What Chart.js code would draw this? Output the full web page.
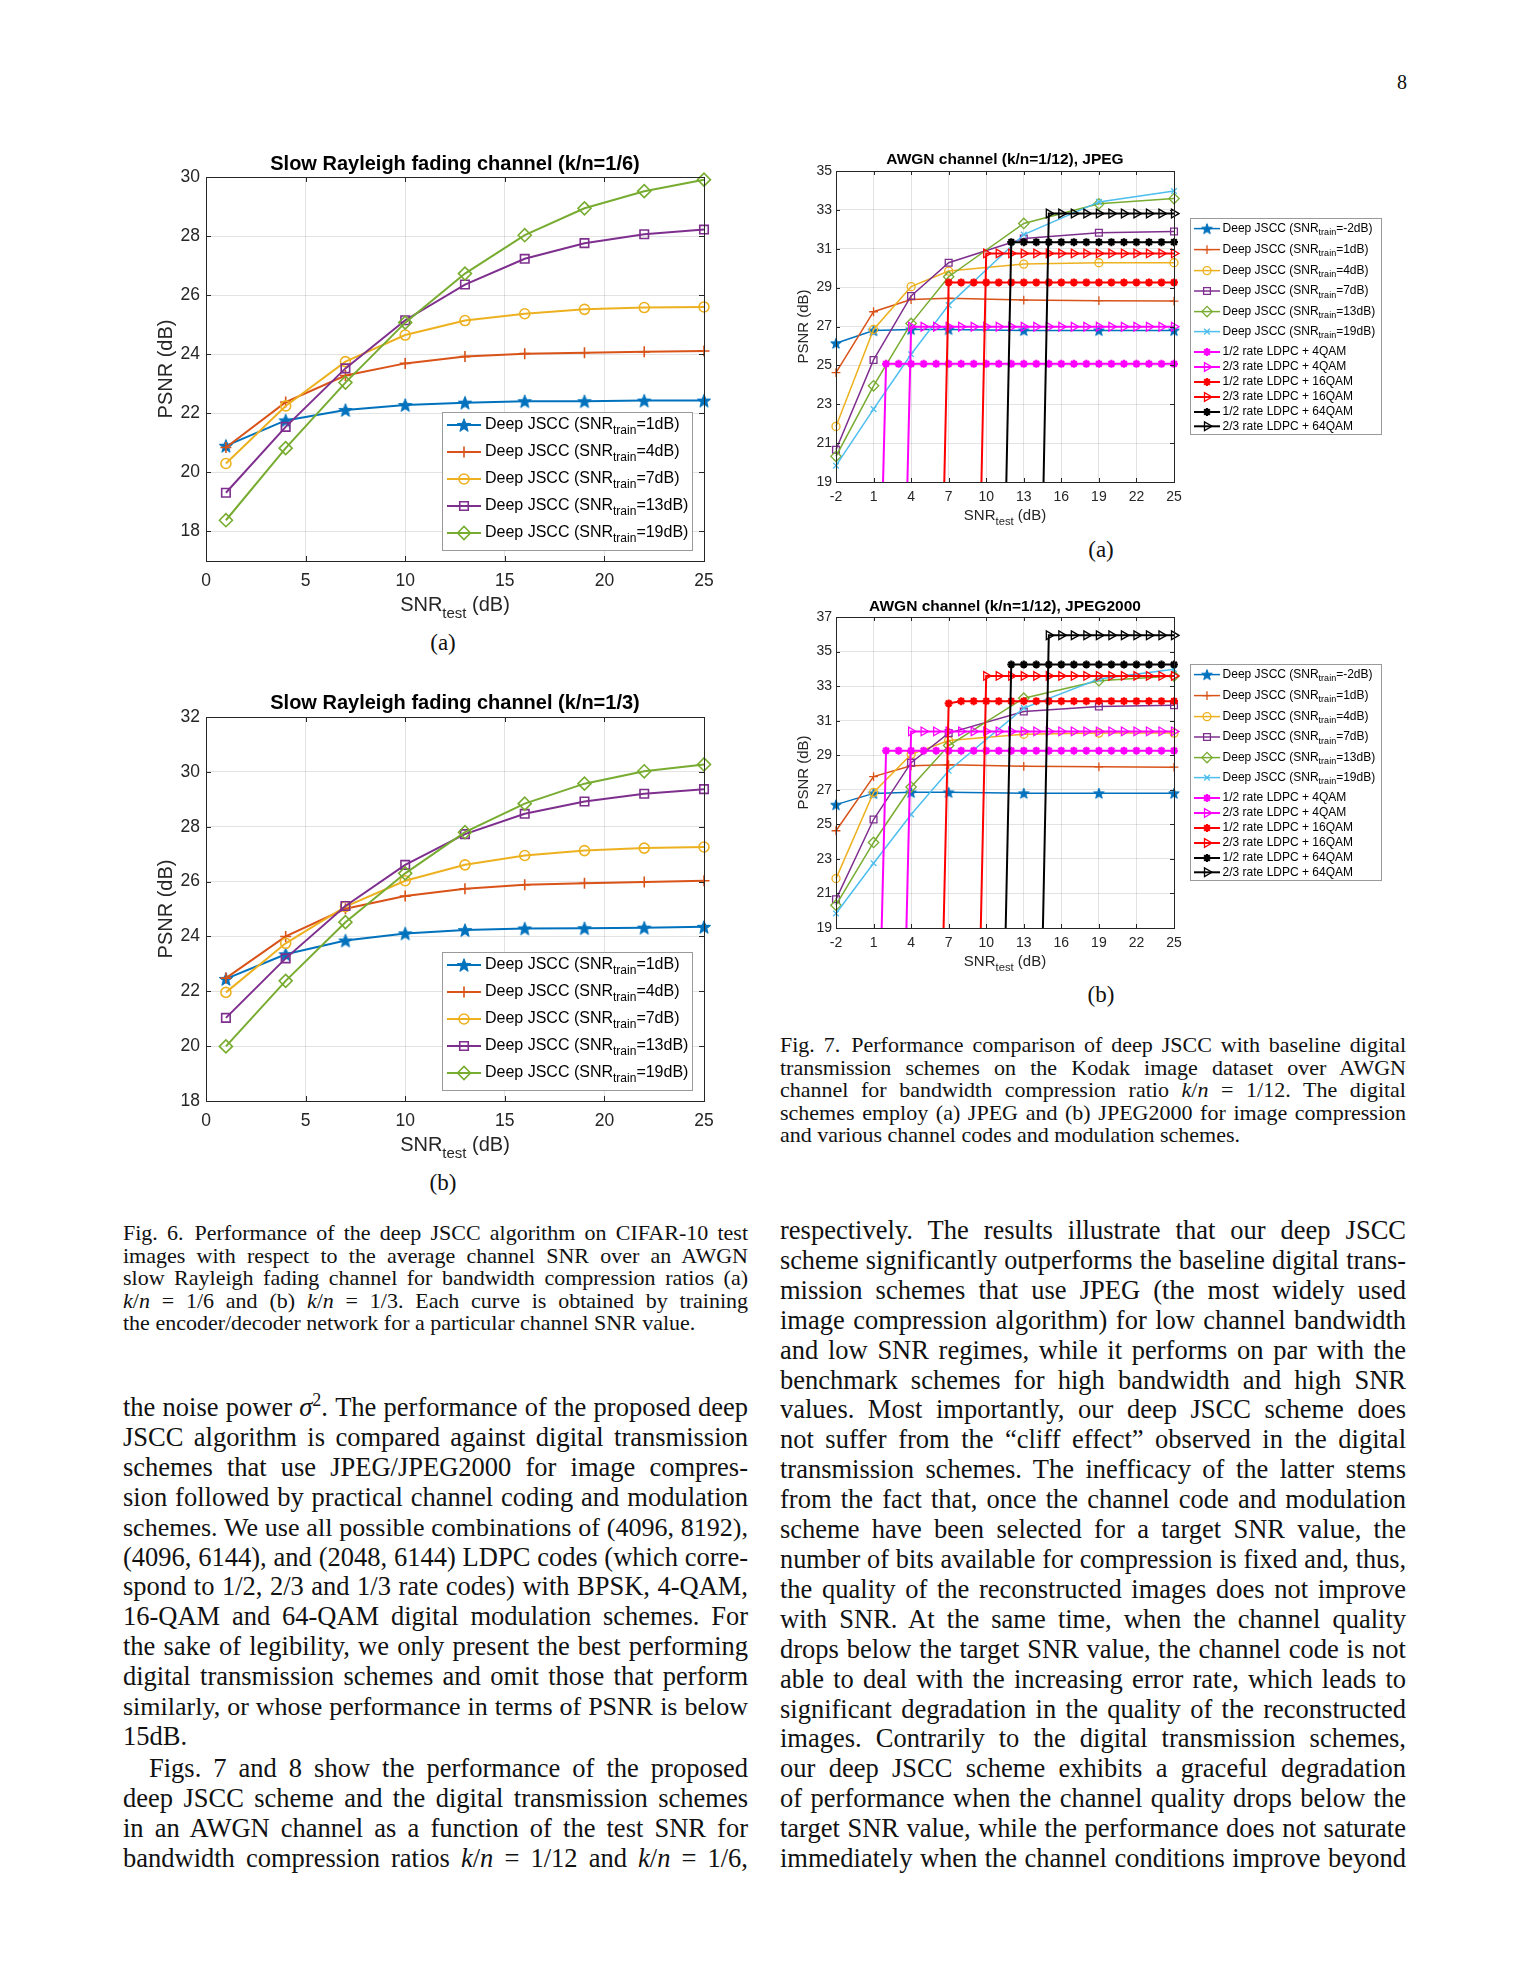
<!DOCTYPE html>
<html>
<head>
<meta charset="utf-8">
<script src="https://cdn.jsdelivr.net/npm/chart.js@4.4.1/dist/chart.umd.min.js"></script>
<style>
html,body{margin:0;padding:0;background:#fff;}
body{width:1530px;height:1980px;position:relative;overflow:hidden;font-family:"Liberation Serif","Times New Roman",serif;color:#111;}
canvas.cv{position:absolute;}
.txt{position:absolute;}
.txt div{text-align:justify;text-align-last:justify;}
.txt div.last{text-align-last:left;}
.txt div.ind{text-indent:26px;}
.body{font-size:26.5px;line-height:29.9px;}
.cap{font-size:22px;line-height:22.5px;}
.lab{position:absolute;font-size:23px;transform:translate(-50%,-50%);}
</style>
</head>
<body>
<canvas id="c1" class="cv" width="620" height="490" style="left:120px;top:140px;"></canvas>
<canvas id="c2" class="cv" width="620" height="490" style="left:120px;top:680px;"></canvas>
<canvas id="c3" class="cv" width="625" height="395" style="left:770px;top:135px;"></canvas>
<canvas id="c4" class="cv" width="625" height="395" style="left:770px;top:580px;"></canvas>

<div class="lab" style="left:1402px;top:82px;font-size:20px;">8</div>
<div class="lab" style="left:443px;top:643px;">(a)</div>
<div class="lab" style="left:443px;top:1183px;">(b)</div>
<div class="lab" style="left:1101px;top:550px;">(a)</div>
<div class="lab" style="left:1101px;top:995px;">(b)</div>

<div class="txt cap" style="left:780px;top:1034px;width:626px;">
<div>Fig. 7.&ensp;Performance comparison of deep JSCC with baseline digital</div>
<div>transmission schemes on the Kodak image dataset over AWGN</div>
<div>channel for bandwidth compression ratio <i>k</i>/<i>n</i> = 1/12. The digital</div>
<div>schemes employ (a) JPEG and (b) JPEG2000 for image compression</div>
<div class="last">and various channel codes and modulation schemes.</div>
</div>

<div class="txt cap" style="left:123px;top:1222px;width:625px;">
<div>Fig. 6.&ensp;Performance of the deep JSCC algorithm on CIFAR-10 test</div>
<div>images with respect to the average channel SNR over an AWGN</div>
<div>slow Rayleigh fading channel for bandwidth compression ratios (a)</div>
<div><i>k</i>/<i>n</i> = 1/6 and (b) <i>k</i>/<i>n</i> = 1/3. Each curve is obtained by training</div>
<div class="last">the encoder/decoder network for a particular channel SNR value.</div>
</div>

<div class="txt body" style="left:123px;top:1393px;width:625px;">
<div>the noise power <i>σ</i><sup style="font-size:18px;line-height:0;">2</sup>. The performance of the proposed deep</div>
<div>JSCC algorithm is compared against digital transmission</div>
<div>schemes that use JPEG/JPEG2000 for image compres-</div>
<div>sion followed by practical channel coding and modulation</div>
<div>schemes. We use all possible combinations of (4096, 8192),</div>
<div>(4096, 6144), and (2048, 6144) LDPC codes (which corre-</div>
<div>spond to 1/2, 2/3 and 1/3 rate codes) with BPSK, 4-QAM,</div>
<div>16-QAM and 64-QAM digital modulation schemes. For</div>
<div>the sake of legibility, we only present the best performing</div>
<div>digital transmission schemes and omit those that perform</div>
<div>similarly, or whose performance in terms of PSNR is below</div>
<div class="last">15dB.</div>
<div class="ind" style="margin-top:2px;">Figs. 7 and 8 show the performance of the proposed</div>
<div>deep JSCC scheme and the digital transmission schemes</div>
<div>in an AWGN channel as a function of the test SNR for</div>
<div>bandwidth compression ratios <i>k</i>/<i>n</i> = 1/12 and <i>k</i>/<i>n</i> = 1/6,</div>
</div>

<div class="txt body" style="left:780px;top:1216px;width:626px;">
<div>respectively. The results illustrate that our deep JSCC</div>
<div>scheme significantly outperforms the baseline digital trans-</div>
<div>mission schemes that use JPEG (the most widely used</div>
<div>image compression algorithm) for low channel bandwidth</div>
<div>and low SNR regimes, while it performs on par with the</div>
<div>benchmark schemes for high bandwidth and high SNR</div>
<div>values. Most importantly, our deep JSCC scheme does</div>
<div>not suffer from the “cliff effect” observed in the digital</div>
<div>transmission schemes. The inefficacy of the latter stems</div>
<div>from the fact that, once the channel code and modulation</div>
<div>scheme have been selected for a target SNR value, the</div>
<div>number of bits available for compression is fixed and, thus,</div>
<div>the quality of the reconstructed images does not improve</div>
<div>with SNR. At the same time, when the channel quality</div>
<div>drops below the target SNR value, the channel code is not</div>
<div>able to deal with the increasing error rate, which leads to</div>
<div>significant degradation in the quality of the reconstructed</div>
<div>images. Contrarily to the digital transmission schemes,</div>
<div>our deep JSCC scheme exhibits a graceful degradation</div>
<div>of performance when the channel quality drops below the</div>
<div>target SNR value, while the performance does not saturate</div>
<div>immediately when the channel conditions improve beyond</div>
</div>

<script>
// ---------------- DATA ----------------
// Fig. 6: slow Rayleigh fading channel
const snrTestRayleigh = [1, 4, 7, 10, 13, 16, 19, 22, 25];
const rayleighTrainLabels = ['Deep JSCC (SNR_{train}=1dB)', 'Deep JSCC (SNR_{train}=4dB)', 'Deep JSCC (SNR_{train}=7dB)', 'Deep JSCC (SNR_{train}=13dB)', 'Deep JSCC (SNR_{train}=19dB)'];
// k/n = 1/6
const r16_snr1  = [20.90, 21.76, 22.11, 22.28, 22.36, 22.41, 22.41, 22.43, 22.43];
const r16_snr4  = [20.84, 22.38, 23.28, 23.69, 23.92, 24.02, 24.05, 24.08, 24.11];
const r16_snr7  = [20.30, 22.25, 23.75, 24.65, 25.14, 25.37, 25.52, 25.58, 25.60];
const r16_snr13 = [19.31, 21.54, 23.52, 25.15, 26.36, 27.23, 27.76, 28.06, 28.22];
const r16_snr19 = [18.38, 20.82, 23.04, 25.07, 26.73, 28.03, 28.94, 29.52, 29.91];
// k/n = 1/3
const r13_snr1  = [22.45, 23.35, 23.85, 24.11, 24.23, 24.29, 24.30, 24.32, 24.35];
const r13_snr4  = [22.48, 24.00, 25.01, 25.47, 25.74, 25.88, 25.94, 25.98, 26.03];
const r13_snr7  = [21.96, 23.75, 25.09, 26.03, 26.61, 26.95, 27.13, 27.22, 27.26];
const r13_snr13 = [21.03, 23.20, 25.11, 26.61, 27.73, 28.47, 28.92, 29.20, 29.37];
const r13_snr19 = [19.99, 22.38, 24.52, 26.30, 27.80, 28.84, 29.57, 30.02, 30.27];

// Fig. 7: AWGN channel, k/n = 1/12
const snrTestAwgn = [-2, 1, 4, 7, 13, 19, 25];
const awgnTrainLabels = ['Deep JSCC (SNR_{train}=-2dB)', 'Deep JSCC (SNR_{train}=1dB)', 'Deep JSCC (SNR_{train}=4dB)', 'Deep JSCC (SNR_{train}=7dB)', 'Deep JSCC (SNR_{train}=13dB)', 'Deep JSCC (SNR_{train}=19dB)'];
const awgn_snrm2 = [26.14, 26.79, 26.85, 26.85, 26.80, 26.80, 26.80];
const awgn_snr1  = [24.63, 27.76, 28.39, 28.45, 28.36, 28.33, 28.31];
const awgn_snr4  = [21.86, 26.85, 29.05, 29.85, 30.21, 30.28, 30.28];
const awgn_snr7  = [20.66, 25.28, 28.57, 30.28, 31.53, 31.82, 31.89];
const awgn_snr13 = [20.32, 23.95, 27.16, 29.56, 32.30, 33.31, 33.58];
const awgn_snr19 = [19.84, 22.75, 25.57, 28.10, 31.73, 33.41, 33.97];

const digitalLabels = ['1/2 rate LDPC + 4QAM', '2/3 rate LDPC + 4QAM', '1/2 rate LDPC + 16QAM', '2/3 rate LDPC + 16QAM', '1/2 rate LDPC + 64QAM', '2/3 rate LDPC + 64QAM'];
const snrTestDigital = [-2, -1, 0, 1, 2, 3, 4, 5, 6, 7, 8, 9, 10, 11, 12, 13, 14, 15, 16, 17, 18, 19, 20, 21, 22, 23, 24, 25];
// JPEG
const jpeg_ldpc12_4qam = [null, null, null, 0,
  25.08, 25.08, 25.08, 25.08, 25.08, 25.08, 25.08, 25.08,
  25.08, 25.08, 25.08, 25.08, 25.08, 25.08, 25.08, 25.08,
  25.08, 25.08, 25.08, 25.08, 25.08, 25.08, 25.08, 25.08];
const jpeg_ldpc23_4qam = [null, null, null, null, null, 0,
  26.99, 26.99, 26.99, 26.99, 26.99, 26.99,
  26.99, 26.99, 26.99, 26.99, 26.99, 26.99, 26.99, 26.99,
  26.99, 26.99, 26.99, 26.99, 26.99, 26.99, 26.99, 26.99];
const jpeg_ldpc12_16qam = [null, null, null, null, null, null, null, null, 0,
  29.27, 29.27, 29.27,
  29.27, 29.27, 29.27, 29.27, 29.27, 29.27, 29.27, 29.27,
  29.27, 29.27, 29.27, 29.27, 29.27, 29.27, 29.27, 29.27];
const jpeg_ldpc23_16qam = [null, null, null, null, null, null, null, null, null, null, null, 0,
  30.76, 30.76, 30.76, 30.76, 30.76, 30.76, 30.76, 30.76,
  30.76, 30.76, 30.76, 30.76, 30.76, 30.76, 30.76, 30.76];
const jpeg_ldpc12_64qam = [null, null, null, null, null, null, null, null, null, null, null, null, null, 0,
  31.34, 31.34, 31.34, 31.34, 31.34, 31.34,
  31.34, 31.34, 31.34, 31.34, 31.34, 31.34, 31.34, 31.34];
const jpeg_ldpc23_64qam = [null, null, null, null, null, null, null, null, null, null, null, null, null, null, null, null, 0,
  32.81, 32.81, 32.81,
  32.81, 32.81, 32.81, 32.81, 32.81, 32.81, 32.81, 32.81];
// JPEG2000
const j2k_ldpc12_4qam = [null, null, null, 0,
  29.26, 29.26, 29.26, 29.26, 29.26, 29.26, 29.26, 29.26,
  29.26, 29.26, 29.26, 29.26, 29.26, 29.26, 29.26, 29.26,
  29.26, 29.26, 29.26, 29.26, 29.26, 29.26, 29.26, 29.26];
const j2k_ldpc23_4qam = [null, null, null, null, null, 0,
  30.38, 30.38, 30.38, 30.38, 30.38, 30.38,
  30.38, 30.38, 30.38, 30.38, 30.38, 30.38, 30.38, 30.38,
  30.38, 30.38, 30.38, 30.38, 30.38, 30.38, 30.38, 30.38];
const j2k_ldpc12_16qam = [null, null, null, null, null, null, null, null, 0,
  32.00, 32.13, 32.13,
  32.13, 32.13, 32.13, 32.13, 32.13, 32.13, 32.13, 32.13,
  32.13, 32.13, 32.13, 32.13, 32.13, 32.13, 32.13, 32.13];
const j2k_ldpc23_16qam = [null, null, null, null, null, null, null, null, null, null, null, 0,
  33.59, 33.59, 33.59, 33.59, 33.59, 33.59, 33.59, 33.59,
  33.59, 33.59, 33.59, 33.59, 33.59, 33.59, 33.59, 33.59];
const j2k_ldpc12_64qam = [null, null, null, null, null, null, null, null, null, null, null, null, null, 0,
  34.25, 34.25, 34.25, 34.25, 34.25, 34.25,
  34.25, 34.25, 34.25, 34.25, 34.25, 34.25, 34.25, 34.25];
const j2k_ldpc23_64qam = [null, null, null, null, null, null, null, null, null, null, null, null, null, null, null, null, 0,
  35.94, 35.94, 35.94,
  35.94, 35.94, 35.94, 35.94, 35.94, 35.94, 35.94, 35.94];

// tick labels
const xTicksRayleigh = [0, 5, 10, 15, 20, 25];
const yTicksR16 = [18, 20, 22, 24, 26, 28, 30];
const yTicksR13 = [18, 20, 22, 24, 26, 28, 30, 32];
const xTicksAwgn = [-2, 1, 4, 7, 10, 13, 16, 19, 22, 25];
const yTicksJpeg = [19, 21, 23, 25, 27, 29, 31, 33, 35];
const yTicksJ2k = [19, 21, 23, 25, 27, 29, 31, 33, 35, 37];

const titles = ['Slow Rayleigh fading channel (k/n=1/6)', 'Slow Rayleigh fading channel (k/n=1/3)', 'AWGN channel (k/n=1/12), JPEG', 'AWGN channel (k/n=1/12), JPEG2000'];
const xAxisTitle = 'SNR_{test} (dB)';
const yAxisTitle = 'PSNR (dB)';

// ---------------- STYLE ----------------
const FONT = '"Liberation Sans", Arial, Helvetica, sans-serif';
const AXC = '#262626';
const C = {blue:'#0072BD', orange:'#D95319', yellow:'#EDB120', purple:'#7E2F8E', green:'#77AC30', cyan:'#4DBEEE', magenta:'#FF00FF', red:'#FF0000', black:'#000000'};
const NOFILL = 'rgba(0,0,0,0)';
Chart.defaults.font.family = FONT;

function makePentagram(color, r) {
  const s = Math.ceil(2 * r + 4);
  const c = document.createElement('canvas'); c.width = s; c.height = s;
  const g = c.getContext('2d'); g.translate(s / 2, s / 2 + r * 0.1);
  g.beginPath();
  for (let i = 0; i < 10; i++) {
    const rr = i % 2 === 0 ? r : r * 0.42;
    const ang = -Math.PI / 2 + i * Math.PI / 5;
    const px = rr * Math.cos(ang), py = rr * Math.sin(ang);
    if (i === 0) g.moveTo(px, py); else g.lineTo(px, py);
  }
  g.closePath(); g.fillStyle = color; g.fill(); g.lineWidth = 1; g.strokeStyle = color; g.stroke();
  return c;
}

function deepStyles(big) {
  const lw = big ? 2 : 1.5;
  const k = big ? 1 : 0.8;
  const base = (col) => ({borderColor: col, pointBorderColor: col, pointBackgroundColor: NOFILL, borderWidth: lw, pointBorderWidth: big ? 1.6 : 1.3});
  return [
    Object.assign(base(C.blue), {pointStyle: makePentagram(C.blue, 7 * k), pointRadius: 6 * k}),
    Object.assign(base(C.orange), {pointStyle: 'cross', pointRadius: 5.5 * k}),
    Object.assign(base(C.yellow), {pointStyle: 'circle', pointRadius: 5 * k}),
    Object.assign(base(C.purple), {pointStyle: 'rect', pointRadius: 6 * k}),
    Object.assign(base(C.green), {pointStyle: 'rectRot', pointRadius: 6.5 * k}),
    Object.assign(base(C.cyan), {pointStyle: 'crossRot', pointRadius: 4}),
  ];
}
function digitalStyles() {
  const ast = (col) => ({borderColor: col, pointBorderColor: col, pointBackgroundColor: col, borderWidth: 2, pointBorderWidth: 2.2, pointStyle: 'star', pointRadius: 4});
  const tri = (col) => ({borderColor: col, pointBorderColor: col, pointBackgroundColor: NOFILL, borderWidth: 2, pointBorderWidth: 1.3, pointStyle: 'triangle', pointRadius: 5, pointRotation: 90});
  return [ast(C.magenta), tri(C.magenta), ast(C.red), tri(C.red), ast(C.black), tri(C.black)];
}

function ds(label, xs, ys, st, idx) {
  const pts = [];
  xs.forEach((x, i) => { if (ys[i] !== null && ys[i] !== undefined) pts.push({x: x, y: ys[i]}); });
  return Object.assign({label: label, data: pts, showLine: true, fill: false, tension: 0, order: -idx,
    clip: {left: 12, right: 12, top: 12, bottom: 0}}, st);
}

// rich text with _{sub}
function parseRich(s) {
  const parts = []; const re = /_\{([^}]*)\}/g; let last = 0, m;
  while ((m = re.exec(s))) {
    if (m.index > last) parts.push({t: s.slice(last, m.index), sub: false});
    parts.push({t: m[1], sub: true}); last = re.lastIndex;
  }
  if (last < s.length) parts.push({t: s.slice(last), sub: false});
  return parts;
}
function drawRich(ctx, s, x, y, size, align, baseline) {
  const parts = parseRich(s); const sub = size * 0.75;
  ctx.textBaseline = baseline; ctx.textAlign = 'left';
  let w = 0;
  parts.forEach(p => { ctx.font = (p.sub ? sub : size) + 'px ' + FONT; p.w = ctx.measureText(p.t).width; w += p.w; });
  let cx = align === 'center' ? x - w / 2 : (align === 'right' ? x - w : x);
  parts.forEach(p => {
    ctx.font = (p.sub ? sub : size) + 'px ' + FONT;
    ctx.fillText(p.t, cx, p.sub ? y + size * 0.36 : y);
    cx += p.w;
  });
}

const decor = {
  id: 'decor',
  afterDraw(chart, args, o) {
    const ctx = chart.ctx, a = chart.chartArea;
    const xs = chart.scales.x, ys = chart.scales.y;
    ctx.save();
    // inward ticks
    ctx.strokeStyle = AXC; ctx.lineWidth = 1;
    ctx.beginPath();
    xs.ticks.forEach(t => {
      const px = Math.round(xs.getPixelForValue(t.value)) + 0.5;
      ctx.moveTo(px, a.bottom); ctx.lineTo(px, a.bottom - o.tickLen);
      ctx.moveTo(px, a.top); ctx.lineTo(px, a.top + o.tickLen);
    });
    ys.ticks.forEach(t => {
      const py = Math.round(ys.getPixelForValue(t.value)) + 0.5;
      ctx.moveTo(a.left, py); ctx.lineTo(a.left + o.tickLen, py);
      ctx.moveTo(a.right, py); ctx.lineTo(a.right - o.tickLen, py);
    });
    ctx.stroke();
    // frame
    ctx.strokeRect(Math.round(a.left) + 0.5, Math.round(a.top) + 0.5, Math.round(a.right - a.left), Math.round(a.bottom - a.top));
    // title
    ctx.fillStyle = '#000'; ctx.font = 'bold ' + o.titleSize + 'px ' + FONT;
    ctx.textAlign = 'center'; ctx.textBaseline = 'middle';
    ctx.fillText(o.title, (a.left + a.right) / 2, a.top - o.titleGap);
    // axis titles
    ctx.fillStyle = AXC;
    drawRich(ctx, xAxisTitle, (a.left + a.right) / 2, a.bottom + o.xTitleGap, o.axisTitleSize, 'center', 'alphabetic');
    ctx.save();
    ctx.translate(a.left - o.yTitleGap, (a.top + a.bottom) / 2); ctx.rotate(-Math.PI / 2);
    drawRich(ctx, yAxisTitle, 0, 0, o.axisTitleSize, 'center', 'middle');
    ctx.restore();
    // legend
    const L = o.legend;
    const bx = L.ref === 'br' ? a.right - L.dx - L.w : a.right + L.dx;
    const by = L.ref === 'br' ? a.bottom - L.dy - L.h : a.top + L.dy;
    ctx.fillStyle = '#fff'; ctx.fillRect(bx, by, L.w, L.h);
    ctx.strokeStyle = '#9a9a9a'; ctx.lineWidth = 1;
    ctx.strokeRect(Math.round(bx) + 0.5, Math.round(by) + 0.5, Math.round(L.w), Math.round(L.h));
    chart.data.datasets.forEach((d, i) => {
      const y = by + L.rows[i];
      ctx.strokeStyle = d.borderColor; ctx.lineWidth = d.borderWidth;
      ctx.beginPath(); ctx.moveTo(bx + L.line[0], y); ctx.lineTo(bx + L.line[1], y); ctx.stroke();
      ctx.strokeStyle = d.pointBorderColor; ctx.fillStyle = d.pointBackgroundColor; ctx.lineWidth = d.pointBorderWidth;
      Chart.helpers.drawPoint(ctx, {pointStyle: d.pointStyle, radius: d.pointRadius, rotation: d.pointRotation || 0, borderWidth: d.pointBorderWidth}, bx + L.marker, y);
      ctx.fillStyle = '#000';
      drawRich(ctx, d.label, bx + L.text, y, L.font, 'left', 'middle');
    });
    ctx.restore();
  }
};

function makeChart(id, datasets, cfg) {
  const ticksOf = (arr) => (s) => { s.ticks = arr.map(v => ({value: v})); };
  return new Chart(document.getElementById(id), {
    type: 'scatter',
    data: {datasets: datasets},
    options: {
      responsive: false, animation: false, devicePixelRatio: 1,
      layout: {padding: {top: cfg.pt, right: cfg.pr, left: 0, bottom: 0}},
      elements: {line: {tension: 0}},
      scales: {
        x: {type: 'linear', min: cfg.xMin, max: cfg.xMax, afterBuildTicks: ticksOf(cfg.xTicks),
            afterFit: (s) => { s.height = cfg.xh; },
            grid: {color: 'rgba(38,38,38,0.13)', drawTicks: false, lineWidth: 1},
            border: {display: false},
            ticks: {color: AXC, font: {size: cfg.tickSize}, padding: cfg.xPad, maxRotation: 0, autoSkip: false}},
        y: {type: 'linear', min: cfg.yMin, max: cfg.yMax, afterBuildTicks: ticksOf(cfg.yTicks),
            afterFit: (s) => { s.width = cfg.yw; },
            grid: {color: 'rgba(38,38,38,0.13)', drawTicks: false, lineWidth: 1},
            border: {display: false},
            ticks: {color: AXC, font: {size: cfg.tickSize}, padding: cfg.yPad, autoSkip: false}}
      },
      plugins: {legend: {display: false}, title: {display: false}, tooltip: {enabled: false},
        decor: cfg.decor}
    },
    plugins: [decor]
  });
}

// ---------------- CHARTS ----------------
const bigLegend = {ref: 'br', dx: 12, dy: 11, w: 250, h: 138, rows: [13, 40, 67, 94, 121], line: [5, 39], marker: 22, text: 43, font: 16};
const smallLegend = {ref: 'tr', dx: 15.6, dy: 47, w: 191.4, h: 216.3,
  rows: [10.6, 31.6, 52.6, 73, 93.6, 113.6, 134, 149, 164, 179, 194, 208.3], line: [4.4, 30.4], marker: 17.4, text: 33, font: 12};

const sBig = deepStyles(true);
const r16 = [r16_snr1, r16_snr4, r16_snr7, r16_snr13, r16_snr19];
const r13 = [r13_snr1, r13_snr4, r13_snr7, r13_snr13, r13_snr19];
makeChart('c1', r16.map((v, i) => ds(rayleighTrainLabels[i], snrTestRayleigh, v, sBig[i], i)), {
  pt: 37, pr: 36, yw: 86, xh: 69, xMin: 0, xMax: 25, yMin: 17, yMax: 30,
  xTicks: xTicksRayleigh, yTicks: yTicksR16, tickSize: 17.5, xPad: 10, yPad: 6,
  decor: {title: titles[0], titleSize: 20, titleGap: 13, axisTitleSize: 20, xTitleGap: 50, yTitleGap: 40, tickLen: 5, legend: bigLegend}
});
makeChart('c2', r13.map((v, i) => ds(rayleighTrainLabels[i], snrTestRayleigh, v, sBig[i], i)), {
  pt: 37, pr: 36, yw: 86, xh: 69, xMin: 0, xMax: 25, yMin: 18, yMax: 32,
  xTicks: xTicksRayleigh, yTicks: yTicksR13, tickSize: 17.5, xPad: 10, yPad: 6,
  decor: {title: titles[1], titleSize: 20, titleGap: 14, axisTitleSize: 20, xTitleGap: 50, yTitleGap: 40, tickLen: 5, legend: bigLegend}
});

const sSmall = deepStyles(false);
const sDig = digitalStyles();
const awgnDeep = [awgn_snrm2, awgn_snr1, awgn_snr4, awgn_snr7, awgn_snr13, awgn_snr19];
const jpegDig = [jpeg_ldpc12_4qam, jpeg_ldpc23_4qam, jpeg_ldpc12_16qam, jpeg_ldpc23_16qam, jpeg_ldpc12_64qam, jpeg_ldpc23_64qam];
const j2kDig = [j2k_ldpc12_4qam, j2k_ldpc23_4qam, j2k_ldpc12_16qam, j2k_ldpc23_16qam, j2k_ldpc12_64qam, j2k_ldpc23_64qam];
function awgnSets(dig) {
  return awgnDeep.map((v, i) => ds(awgnTrainLabels[i], snrTestAwgn, v, sSmall[i], i))
    .concat(dig.map((v, i) => ds(digitalLabels[i], snrTestDigital, v, sDig[i], i + 6)));
}
makeChart('c3', awgnSets(jpegDig), {
  pt: 36, pr: 221, yw: 66, xh: 48, xMin: -2, xMax: 25, yMin: 19, yMax: 35,
  xTicks: xTicksAwgn, yTicks: yTicksJpeg, tickSize: 14, xPad: 7, yPad: 4,
  decor: {title: titles[2], titleSize: 15.5, titleGap: 11, axisTitleSize: 15, xTitleGap: 38, yTitleGap: 32, tickLen: 4, legend: smallLegend}
});
makeChart('c4', awgnSets(j2kDig), {
  pt: 37, pr: 221, yw: 66, xh: 47, xMin: -2, xMax: 25, yMin: 19, yMax: 37,
  xTicks: xTicksAwgn, yTicks: yTicksJ2k, tickSize: 14, xPad: 7, yPad: 4,
  decor: {title: titles[3], titleSize: 15.5, titleGap: 10, axisTitleSize: 15, xTitleGap: 38, yTitleGap: 32, tickLen: 4, legend: smallLegend}
});

// keep justified lines on one line each
document.querySelectorAll('.txt').forEach(box => {
  const lh = parseFloat(getComputedStyle(box).lineHeight);
  box.querySelectorAll('div').forEach(el => {
    let fs = parseFloat(getComputedStyle(el).fontSize);
    let n = 0;
    while (el.getBoundingClientRect().height > lh * 1.4 && n < 40) { fs -= 0.25; el.style.fontSize = fs + 'px'; n++; }
  });
});
</script>
</body>
</html>
